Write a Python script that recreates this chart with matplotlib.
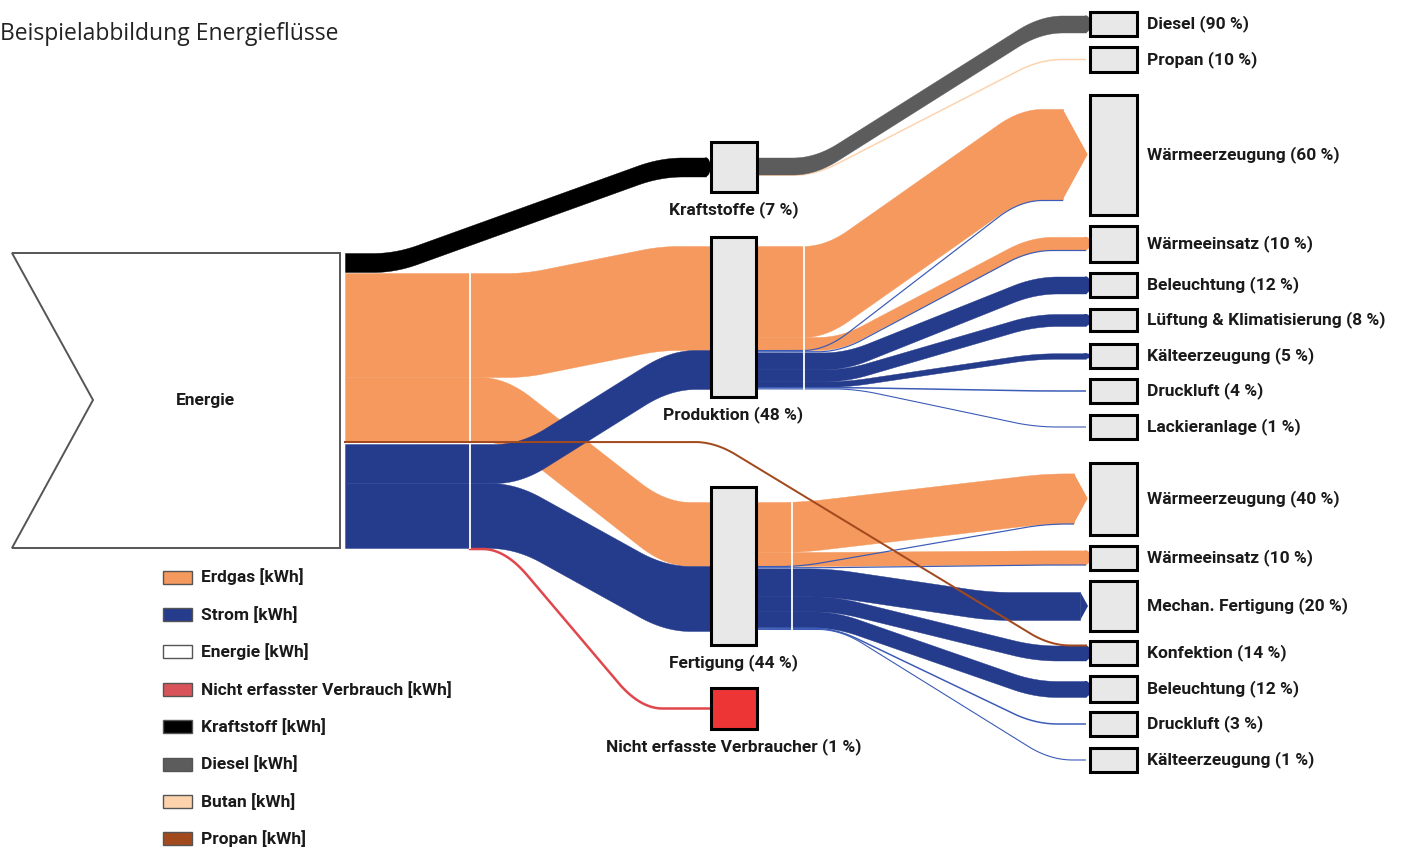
import numpy as np
import matplotlib.pyplot as plt
from matplotlib.patches import Polygon, Rectangle, Ellipse

# ---- Daten (Flussbreiten in relativen Einheiten, 1 Einheit = 1 px) ----
energie_kraftstoff = 19
energie_erdgas = [104, 64]      # -> Produktion, Fertigung
energie_strom = [39, 65]        # -> Produktion, Fertigung
energie_propan = 2              # -> Konfektion
energie_nicht = 2.5             # -> Nicht erfasste Verbraucher

mid_names = ["Kraftstoffe", "Produktion", "Fertigung", "Nicht erfasste Verbraucher"]
mid_pct = [7, 48, 44, 1]

kraft_names = ["Diesel", "Propan"]
kraft_pct = [90, 10]
kraft_values = [17, 1.5]

prod_names = ["Wärmeerzeugung", "Wärmeeinsatz", "Beleuchtung", "Lüftung & Klimatisierung",
              "Kälteerzeugung", "Druckluft", "Lackieranlage"]
prod_pct = [60, 10, 12, 8, 5, 4, 1]
prod_erdgas = [91, 13, 0, 0, 0, 0, 0]
prod_strom = [1.2, 1.2, 17, 12, 5.5, 1.5, 1]

fert_names = ["Wärmeerzeugung", "Wärmeeinsatz", "Mechan. Fertigung", "Konfektion",
              "Beleuchtung", "Druckluft", "Kälteerzeugung"]
fert_pct = [40, 10, 20, 14, 12, 3, 1]
fert_erdgas = [50, 14, 0, 0, 0, 0, 0]
fert_strom = [1.2, 1.2, 28, 15, 16, 1.5, 1]

legend_labels = ["Erdgas [kWh]", "Strom [kWh]", "Energie [kWh]", "Nicht erfasster Verbrauch [kWh]",
                 "Kraftstoff [kWh]", "Diesel [kWh]", "Butan [kWh]", "Propan [kWh]"]

# ---- Farben ----
ORANGE = "#F5995E"
BLUE = "#253B8C"
THIN_BLUE = "#3B5BB5"
BLACK = "#000000"
GRAY = "#5C5C5C"
PEACH = "#FDD3AE"
BROWN = "#A24A1E"
RED_LINE = "#E0474C"
RED_BOX = "#EE3535"
BOX = "#E8E8E8"
legend_colors = [ORANGE, BLUE, "#FFFFFF", "#D9545A", BLACK, GRAY, PEACH, BROWN]

# ---- Layout ----
mid_boxes = {"Kraftstoffe": (711, 142, 46, 50), "Produktion": (711, 237, 45, 160),
             "Fertigung": (711, 487, 45, 158), "Nicht erfasste Verbraucher": (711, 688, 46, 41)}
kraft_box_y = [(12, 24), (47, 25)]
prod_box_y = [(95, 120), (226, 36), (273, 24), (309, 22), (344, 24), (379, 24), (415, 24)]
fert_box_y = [(463, 72), (546, 24), (581, 50), (641, 24), (676, 26), (712, 24), (748, 24)]
RX0, RW = 1090, 47
END = 1086

LBL = dict(family=["Roboto", "DejaVu Sans"], fontweight="bold",
           fontsize=12.5, color="#1a1a1a")

fig = plt.figure(figsize=(14.01, 8.49), dpi=100)
ax = fig.add_axes([0, 0, 1, 1])
ax.set_xlim(0, 1401)
ax.set_ylim(849, 0)
ax.axis("off")


def ramp(x, xa, xb, r):
    t = np.clip((x - xa) / (xb - xa), 0, 1)
    if r > 0:
        k = np.ones(2 * r + 1) / (2 * r + 1)
        t = np.convolve(np.pad(t, r, mode="edge"), k, mode="valid")
    return t


def ribbon(x0, x1, y0, y1, w, color, xa, xb, r=20, z=2, cap=None):
    x = np.arange(x0, x1 + 0.5, 1.0)
    top = y0 + (y1 - y0) * ramp(x, xa, xb, r)
    if w < 2.6:
        ax.plot(x, top + w / 2, color=color, lw=max(w, 1.1) * 0.72,
                solid_capstyle="butt", zorder=z)
        return
    ax.fill_between(x, top, top + w, color=color, lw=0.3, ec=color, zorder=z)
    yc = y1 + w / 2
    if cap == "round":
        ax.add_patch(Ellipse((x1, yc), 9, w, color=color, lw=0, zorder=z))
    elif cap == "arrow":
        d = 0.55 * w / 2
        ax.add_patch(Polygon([(x1, y1), (x1 + d, yc), (x1, y1 + w)], closed=True,
                             color=color, lw=0, zorder=z))


# ---- Energie-Knoten ----
ax.add_patch(Polygon([(12, 253), (340, 253), (340, 548), (12, 548), (93, 400)], closed=True,
                     fc="white", ec="#555555", lw=1.4, zorder=3))
ax.text(205, 400, "Energie", ha="center", va="center", **LBL)

# ---- Energie -> mittlere Ebene ----
kx, ky, kw, kh = mid_boxes["Kraftstoffe"]
ribbon(345, kx - 5, 253, ky + kh / 2 - energie_kraftstoff / 2, energie_kraftstoff, BLACK,
       395, 660, r=22, cap="round")

y_src = 273
prod_top, fert_top = 246, 502
ribbon(345, 711, y_src, prod_top, energie_erdgas[0], ORANGE, 525, 660, r=18)
y_src += energie_erdgas[0]
ribbon(345, 711, y_src, fert_top, energie_erdgas[1], ORANGE, 505, 665, r=25)
y_src = 444
ribbon(345, 711, y_src, prod_top + energie_erdgas[0], energie_strom[0], BLUE, 520, 670, r=25)
y_src += energie_strom[0]
ribbon(345, 711, y_src, fert_top + energie_erdgas[1], energie_strom[1], BLUE, 515, 665, r=25)
nx, ny, nw, nh = mid_boxes["Nicht erfasste Verbraucher"]
x = np.arange(470, nx + 1, 1.0)
ax.plot(x, 549 + (ny + nh / 2 - 549) * ramp(x, 505, 640, 22), color=RED_LINE,
        lw=energie_nicht * 0.72, zorder=2)

# Trennlinien
ax.plot([470, 470], [273, 548], color="white", lw=1.3, zorder=3)
ax.plot([804, 804], [prod_top, prod_top + energie_erdgas[0] + energie_strom[0]],
        color="white", lw=1.3, zorder=3)
ax.plot([792, 792], [fert_top, fert_top + energie_erdgas[1] + energie_strom[1]],
        color="white", lw=1.3, zorder=3)

# ---- Kraftstoffe -> Diesel / Propan ----
ys = ky + kh / 2 - energie_kraftstoff / 2
for i, (v, c) in enumerate(zip(kraft_values, [GRAY, PEACH])):
    by, bh = kraft_box_y[i]
    ribbon(kx + kw, END, ys, by + bh / 2 - v / 2, v, c, 815, 1040, r=22, cap="round", z=2 - i * 0.1)
    ys += v


# ---- Produktion / Fertigung -> Endverbraucher ----
def fan_out(top, x0, erdgas, strom, boxes, arrows=(), trans=None):
    ys = top
    starts = []
    for v in erdgas:
        starts.append(ys)
        ys += v
    bstarts = []
    for v in strom:
        bstarts.append(ys)
        ys += v
    for i, (by, bh) in enumerate(boxes):
        tot = erdgas[i] + strom[i]
        yt = by + bh / 2 - tot / 2
        xa, xb = trans[i]
        xe = END if i not in arrows else RX0 - 2 - 0.55 * tot / 2
        cap = "arrow" if i in arrows else "round"
        if erdgas[i] > 0:
            ribbon(x0, xe, starts[i], yt, erdgas[i], ORANGE, xa, xb, r=22, cap=cap)
        if strom[i] > 0:
            c = BLUE if strom[i] >= 2.6 else THIN_BLUE
            ribbon(x0, xe, bstarts[i], yt + erdgas[i], strom[i], c, xa, xb, r=22,
                   cap=None if erdgas[i] > 0 else cap, z=2.2)


fan_out(prod_top, 757, prod_erdgas, prod_strom, prod_box_y, arrows=(0,),
        trans=[(825, 1020), (840, 1030), (845, 1035), (845, 1035), (845, 1035), (850, 1035), (855, 1035)])
fan_out(fert_top, 757, fert_erdgas, fert_strom, fert_box_y, arrows=(0, 2),
        trans=[(800, 1045), (820, 1040), (830, 990), (835, 1035), (835, 1035), (835, 1035), (840, 1050)])

# Propan-Linie Energie -> Konfektion
kb_y, kb_h = fert_box_y[3]
x = np.arange(345, END + 1, 1.0)
yk = kb_y + kb_h / 2 - (fert_strom[3] + energie_propan) / 2 + 1
ax.plot(x, 442 + (yk - 442) * ramp(x, 715, 1050, 20), color=BROWN, lw=energie_propan * 0.72, zorder=4)

# ---- Knoten-Kästen ----
for name, pct in zip(mid_names, mid_pct):
    bx, by, bw, bh = mid_boxes[name]
    fc = RED_BOX if name.startswith("Nicht") else BOX
    ax.add_patch(Rectangle((bx, by), bw, bh, fc=fc, ec="black", lw=2.2, zorder=5))
    ax.text(bx + bw / 2, by + bh + 18, f"{name} ({pct} %)", ha="center", va="center", **LBL)

for names, pcts, boxes in [(kraft_names, kraft_pct, kraft_box_y), (prod_names, prod_pct, prod_box_y),
                           (fert_names, fert_pct, fert_box_y)]:
    for name, pct, (by, bh) in zip(names, pcts, boxes):
        ax.add_patch(Rectangle((RX0, by), RW, bh, fc=BOX, ec="black", lw=2.2, zorder=5))
        ax.text(1147, by + bh / 2, f"{name} ({pct} %)", ha="left", va="center", **LBL)

# ---- Legende ----
for i, (lab, c) in enumerate(zip(legend_labels, legend_colors)):
    yc = 577 + i * 37.4
    ax.add_patch(Rectangle((163, yc - 6.5), 29, 13, fc=c, ec="#555555", lw=1.0, zorder=5))
    ax.text(201, yc, lab, ha="left", va="center", **LBL)

ax.text(0, 34, "Beispielabbildung Energieflüsse", ha="left", va="center",
        family=["Open Sans", "DejaVu Sans"], fontsize=16.5, color="#222222")

fig.savefig("out.png", dpi=100)
